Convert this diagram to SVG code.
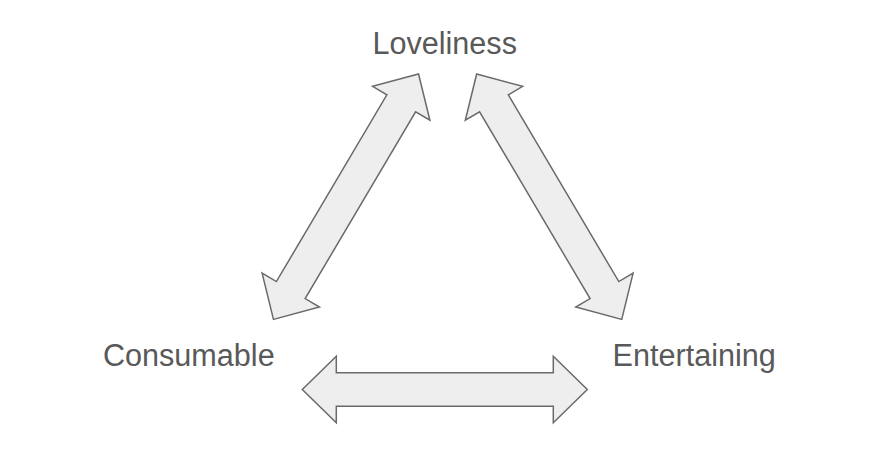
<svg xmlns="http://www.w3.org/2000/svg" width="886" height="474" viewBox="0 0 886 474">
<defs>
<style>
.lbl{font-family:"Liberation Sans",Arial,sans-serif;font-size:30.6px;fill:#595959;text-anchor:middle}
.arr{fill:#eeeeee;stroke:#6a6a6a;stroke-width:1.5;stroke-linejoin:miter}
</style>
<path id="dbl" d="M-142.5,0 L-108.5,-33.3 L-108.5,-16.7 L108.5,-16.7 L108.5,-33.3 L142.5,0 L108.5,33.3 L108.5,16.7 L-108.5,16.7 L-108.5,33.3 Z"/>
</defs>
<rect width="886" height="474" fill="#ffffff"/>
<g id="connectors">
<use href="#dbl" class="arr" transform="translate(346,196.7) rotate(-59.4)"/>
<use href="#dbl" class="arr" transform="translate(549.2,196.7) rotate(59.4)"/>
<use href="#dbl" class="arr" transform="translate(444.8,389.5)"/>
</g>
<g id="loveliness"><text class="lbl" x="444.7" y="53.5">Loveliness</text></g>
<g id="consumable"><text class="lbl" x="188.8" y="366.2">Consumable</text></g>
<g id="entertaining"><text class="lbl" x="694.2" y="366.2">Entertaining</text></g>
</svg>
